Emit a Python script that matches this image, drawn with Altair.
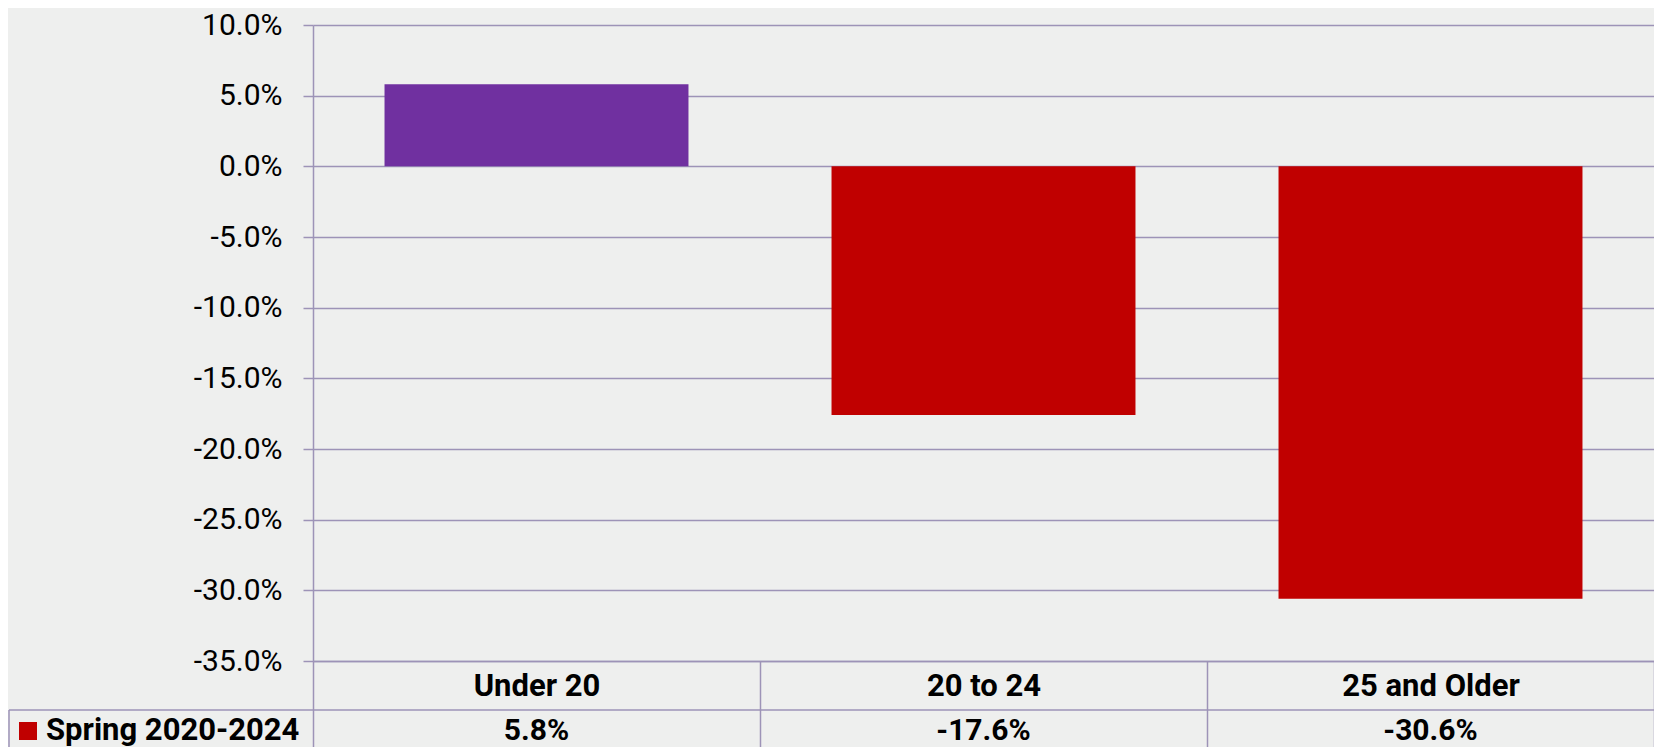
import altair as alt
import pandas as pd

categories = ["Under 20", "20 to 24", "25 and Older"]
values = [0.058, -0.176, -0.306]
value_labels = ["5.8%", "-17.6%", "-30.6%"]
series_name = "Spring 2020-2024"
y_ticks = [0.10, 0.05, 0.0, -0.05, -0.10, -0.15, -0.20, -0.25, -0.30, -0.35]

df = pd.DataFrame({"cat": categories, "value": values, "label": value_labels})
series_df = pd.DataFrame({"series": [series_name]})
one = pd.DataFrame({"k": [0]})

W, H = 1341, 636
GRID = "#9D93B7"
FONT = "Roboto"
PURPLE = "#7030A0"
RED = "#C00000"

x_enc = alt.X(
    "cat:N",
    sort=categories,
    scale=alt.Scale(paddingInner=0, paddingOuter=0),
    axis=alt.Axis(
        title=None, labelAngle=0, tickBand="extent", ticks=True, tickSize=98,
        tickColor=GRID, tickWidth=1.5, domainColor=GRID, domainWidth=1.5,
        labelFont=FONT, labelFontWeight="bold", labelFontSize=31,
        labelColor="black", labelPadding=-64, labelBaseline="alphabetic",
    ),
)

y_enc = alt.Y(
    "value:Q",
    scale=alt.Scale(domain=[-0.35, 0.10], nice=False, zero=True),
    axis=alt.Axis(
        title=None, values=y_ticks, format=".1%",
        labelExpr="replace(datum.label, '\u2212', '-')",
        grid=True, gridColor=GRID, gridWidth=1.5,
        tickSize=10, tickColor=GRID, tickWidth=1.5,
        domainColor=GRID, domainWidth=1.5,
        labelFont=FONT, labelFontSize=30, labelColor="black", labelPadding=21,
    ),
)

bars = alt.Chart(df).mark_bar(width=alt.RelativeBandSize(0.68)).encode(
    x=x_enc,
    y=y_enc,
    color=alt.condition(alt.datum.value > 0, alt.value(PURPLE), alt.value(RED)),
)

vals = alt.Chart(df).mark_text(
    font=FONT, fontWeight="bold", fontSize=30, color="black", baseline="alphabetic"
).encode(
    x=alt.X("cat:N", sort=categories),
    y=alt.value(715),
    text="label:N",
)

row_line = alt.Chart(one).mark_rule(color=GRID, strokeWidth=1.5).encode(
    x=alt.value(-304), x2=alt.value(W), y=alt.value(685)
)
left_border = alt.Chart(one).mark_rule(color=GRID, strokeWidth=1.5).encode(
    x=alt.value(-304), y=alt.value(685), y2=alt.value(H + 120)
)

legend_sym = alt.Chart(series_df).mark_square(size=324, color=RED, opacity=1).encode(
    x=alt.value(-285), y=alt.value(706)
)
legend_txt = alt.Chart(series_df).mark_text(
    font=FONT, fontWeight="bold", fontSize=31, color="black",
    align="left", baseline="alphabetic",
).encode(x=alt.value(-267), y=alt.value(715), text="series:N")

chart = alt.layer(
    bars, vals, row_line, left_border, legend_sym, legend_txt
).properties(
    width=W,
    height=H,
    padding={"left": 305, "top": 17, "right": 0, "bottom": 86},
    autosize=alt.AutoSizeParams(type="none"),
    background="#EEEFEE",
).configure_view(stroke=None)

chart.save("out.html", embed_options={"renderer": "svg", "actions": False})
